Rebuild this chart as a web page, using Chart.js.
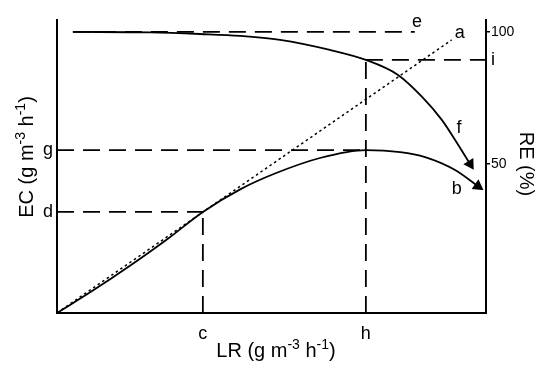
<!DOCTYPE html>
<html>
<head>
<meta charset="utf-8">
<script src="https://cdn.jsdelivr.net/npm/chart.js@4.4.1/dist/chart.umd.min.js"></script>
<style>
  body { margin: 0; background: #fff; }
  #wrap { width: 550px; height: 369px; }
</style>
</head>
<body>
<div id="wrap"><canvas id="lrChart" width="550" height="369"></canvas></div>
<script>
// key points on the axes (LR and EC in arbitrary units 0-100, RE in %)
const lrC = 34, lrH = 72;
const ecD = 34.5, ecG = 55.6;
const reI = 89.4;
const reTicks = [50, reI, 100];
const reTickLabels = ['50', 'i', '100'];

// RE curve (f) - right axis
const reLR = [3.7, 21.7, 33.3, 42.7, 52, 63.6, 72, 79.5, 85.1, 89.7, 92.8, 96.3];
const reVal = [100, 99.8, 99.2, 98.5, 97, 93.2, 89.4, 83.7, 75.4, 66.7, 59.1, 50];

// EC curve (b) - left axis
const ecLR = [0, 8, 17, 26, 34, 42.7, 50.8, 61.3, 72, 80, 85.8, 92.8, 98.1];
const ecVal = [0, 7.3, 16.1, 25.5, 34.5, 42.2, 47.6, 52.9, 55.6, 54.9, 53.2, 48.8, 43.3];

// 100% removal line (a)
const fullLR = [0, 92];
const fullEC = [0, 93.2];

const black = '#000';
const fontFamily = '"Liberation Sans", Arial, sans-serif';

function pts(xs, ys) {
  return xs.map((x, i) => ({ x: x, y: ys[i] }));
}

function arrowLine(xs, ys, axis, rot) {
  return {
    data: pts(xs, ys),
    yAxisID: axis,
    showLine: true,
    borderColor: black,
    backgroundColor: black,
    borderWidth: 1.8,
    cubicInterpolationMode: 'monotone',
    pointStyle: 'triangle',
    pointRotation: rot,
    pointRadius: ctx => ctx.dataIndex === xs.length - 1 ? 5 : 0,
    clip: false
  };
}

function dashLine(data, axis) {
  return {
    data: data,
    yAxisID: axis,
    showLine: true,
    borderColor: black,
    borderWidth: 1.8,
    borderDash: [17, 9],
    pointRadius: 0,
    clip: false
  };
}

function setFont(ctx, p, size) {
  ctx.font = (p.sup ? Math.round(size * 0.68) : size) + 'px ' + fontFamily;
}

function drawRich(ctx, parts, size, cx, cy, rot) {
  ctx.save();
  ctx.translate(cx, cy);
  ctx.rotate(rot);
  ctx.fillStyle = black;
  ctx.textBaseline = 'alphabetic';
  ctx.textAlign = 'left';
  let w = 0;
  parts.forEach(p => { setFont(ctx, p, size); w += ctx.measureText(p.t).width; });
  let x = -w / 2;
  parts.forEach(p => {
    setFont(ctx, p, size);
    ctx.fillText(p.t, x, p.sup ? -size * 0.42 : 0);
    x += ctx.measureText(p.t).width;
  });
  ctx.restore();
}

const unit = [
  { t: ' (g m' }, { t: '-3', sup: true }, { t: ' h' }, { t: '-1', sup: true }, { t: ')' }
];

const annotations = {
  id: 'annotations',
  afterDraw(chart) {
    const ctx = chart.ctx;
    const xs = chart.scales.x, ys = chart.scales.y;
    ctx.save();
    ctx.fillStyle = black;
    ctx.font = '18px ' + fontFamily;
    ctx.textAlign = 'center';
    ctx.textBaseline = 'middle';
    [['a', 93.9, 95.6], ['e', 83.9, 99.3], ['f', 93.7, 63.1], ['b', 93.2, 42.4]].forEach(l => {
      ctx.fillText(l[0], xs.getPixelForValue(l[1]), ys.getPixelForValue(l[2]));
    });
    ctx.restore();

    drawRich(ctx, [{ t: 'LR' }].concat(unit), 20, 276, 357, 0);
    drawRich(ctx, [{ t: 'EC' }].concat(unit), 20, 33, 157, -Math.PI / 2);
    drawRich(ctx, [{ t: 'RE (%)' }], 20, 520, 164, Math.PI / 2);
  }
};

new Chart(document.getElementById('lrChart'), {
  type: 'scatter',
  data: {
    datasets: [
      arrowLine(reLR, reVal, 'y2', 148),
      arrowLine(ecLR, ecVal, 'y', 125),
      {
        data: pts(fullLR, fullEC),
        showLine: true,
        borderColor: black,
        borderWidth: 1.5,
        borderDash: [2.5, 3],
        pointRadius: 0,
        clip: false
      },
      dashLine([{ x: 3.7, y: 100 }, { x: 83.4, y: 100 }], 'y2'),
      dashLine([{ x: lrH, y: reI }, { x: 100, y: reI }], 'y2'),
      dashLine([{ x: 0, y: ecG }, { x: lrH, y: ecG }], 'y'),
      dashLine([{ x: 0, y: ecD }, { x: lrC, y: ecD }], 'y'),
      dashLine([{ x: lrC, y: 0 }, { x: lrC, y: ecD }], 'y'),
      dashLine([{ x: lrH, y: 0 }, { x: lrH, y: 86.3 }], 'y')
    ]
  },
  options: {
    responsive: false,
    animation: false,
    layout: { padding: { top: 20, left: 0, right: 0, bottom: 0 } },
    plugins: { legend: { display: false }, tooltip: { enabled: false } },
    scales: {
      x: {
        type: 'linear',
        min: 0,
        max: 100,
        grid: { display: false },
        border: { display: true, color: black, width: 2 },
        afterBuildTicks: s => { s.ticks = [{ value: lrC }, { value: lrH }]; },
        afterFit: s => { s.height = 56; },
        ticks: {
          color: black,
          padding: 2,
          font: { family: fontFamily, size: 18 },
          callback: v => (v === lrC ? 'c' : 'h')
        }
      },
      y: {
        min: 0,
        max: 100,
        grid: { display: false },
        border: { display: true, color: black, width: 2 },
        afterBuildTicks: s => { s.ticks = [{ value: ecD }, { value: ecG }]; },
        afterFit: s => { s.width = 57; },
        ticks: {
          color: black,
          padding: -4,
          font: { family: fontFamily, size: 18 },
          callback: v => (v === ecD ? 'd' : 'g')
        }
      },
      y2: {
        position: 'right',
        min: -6.4,
        max: 104.5,
        grid: {
          display: true,
          drawOnChartArea: false,
          drawTicks: true,
          tickLength: 4,
          lineWidth: 1.5,
          color: ctx => (ctx.tick && ctx.tick.value === reI ? 'rgba(0,0,0,0)' : black)
        },
        border: { display: true, color: black, width: 2 },
        afterBuildTicks: s => { s.ticks = reTicks.map(v => ({ value: v })); },
        afterFit: s => { s.width = 64; },
        ticks: {
          color: black,
          padding: 1,
          font: ctx => ({
            family: fontFamily,
            size: ctx.tick && ctx.tick.value === reI ? 18 : 14
          }),
          callback: v => reTickLabels[reTicks.indexOf(v)]
        }
      }
    }
  },
  plugins: [annotations]
});
</script>
</body>
</html>
